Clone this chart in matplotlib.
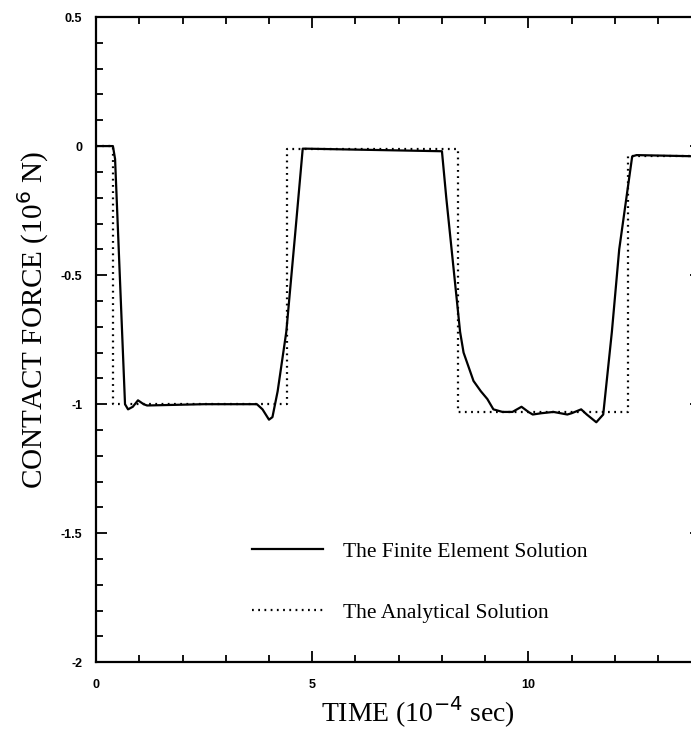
import numpy as np
import matplotlib.pyplot as plt
from matplotlib.ticker import MultipleLocator

plt.rcParams['axes.unicode_minus'] = False

# Finite element solution, time in 1e-4 s, force in 1e6 N
fe_time = [0, 0.39, 0.44, 0.67, 0.74, 0.85, 0.97, 1.1, 1.18, 2.5, 3.72, 3.85,
           4.0, 4.08, 4.2, 4.4, 4.6, 4.78, 4.85, 8.0, 8.1, 8.42, 8.5, 8.73,
           8.9, 9.05, 9.19, 9.4, 9.63, 9.84, 10.0, 10.1, 10.3, 10.58, 10.9,
           11.0, 11.22, 11.35, 11.57, 11.73, 11.93, 12.1, 12.4, 12.5, 14.0]
fe_force = [0, 0, -0.05, -1.0, -1.02, -1.01, -0.985, -1.0, -1.005, -1.0, -1.0, -1.02,
            -1.06, -1.05, -0.95, -0.72, -0.35, -0.01, -0.01, -0.02, -0.2, -0.72, -0.8, -0.91,
            -0.95, -0.98, -1.02, -1.03, -1.03, -1.01, -1.03, -1.04, -1.035, -1.03, -1.04,
            -1.035, -1.02, -1.04, -1.07, -1.04, -0.72, -0.4, -0.04, -0.035, -0.04]

# Analytical solution (square wave)
an_time = [0, 0.39, 0.39, 4.42, 4.42, 8.36, 8.36, 12.3, 12.3, 14.0]
an_force = [0, 0, -1.0, -1.0, -0.01, -0.01, -1.03, -1.03, -0.04, -0.04]

yticks = [-2, -1.5, -1, -0.5, 0, 0.5]
ytick_labels = ['-2', '-1.5', '-1', '-0.5', '0', '0.5']
xticks = [0, 5, 10]
xtick_labels = ['0', '5', '10']

fig = plt.figure(figsize=(6.91, 7.40), dpi=100)
ax = fig.add_axes([0.139, 0.105, 0.876, 0.872])

ax.plot(an_time, an_force, color='black', linewidth=1.6,
        linestyle=(0, (0.8, 2.0)), label='The Analytical Solution')
ax.plot(fe_time, fe_force, color='black', linewidth=1.6,
        label='The Finite Element Solution')

ax.set_xlim(0, 14)
ax.set_ylim(-2, 0.5)

ax.set_xticks(xticks)
ax.set_xticklabels(xtick_labels)
ax.set_yticks(yticks)
ax.set_yticklabels(ytick_labels)
ax.xaxis.set_minor_locator(MultipleLocator(1))
ax.yaxis.set_minor_locator(MultipleLocator(0.1))

ax.tick_params(which='both', direction='in', top=True, right=True, width=1.3)
ax.tick_params(which='major', length=8)
ax.tick_params(which='minor', length=5)
ax.tick_params(axis='x', pad=12)
ax.tick_params(axis='y', pad=10)
for lab in ax.get_xticklabels() + ax.get_yticklabels():
    lab.set_fontsize(9)
    lab.set_fontweight('bold')
    lab.set_family('Liberation Sans')

for sp in ax.spines.values():
    sp.set_linewidth(1.6)

ax.set_xlabel('TIME (10$^{-4}$ sec)', family='Liberation Serif', fontsize=20)
ax.xaxis.set_label_coords(0.532, -0.05)
ax.set_ylabel('CONTACT FORCE (10$^{6}$ N)', family='Liberation Serif', fontsize=21)
ax.yaxis.set_label_coords(-0.075, 0.53)

handles, labels = ax.get_legend_handles_labels()
leg = ax.legend(handles[::-1], labels[::-1], loc='center left',
                bbox_to_anchor=(0.24, 0.124), frameon=False, borderpad=0,
                prop={'family': 'Liberation Serif', 'size': 15.5},
                handlelength=3.3, handletextpad=0.9, labelspacing=1.9)

fig.savefig('out.png', dpi=100)
